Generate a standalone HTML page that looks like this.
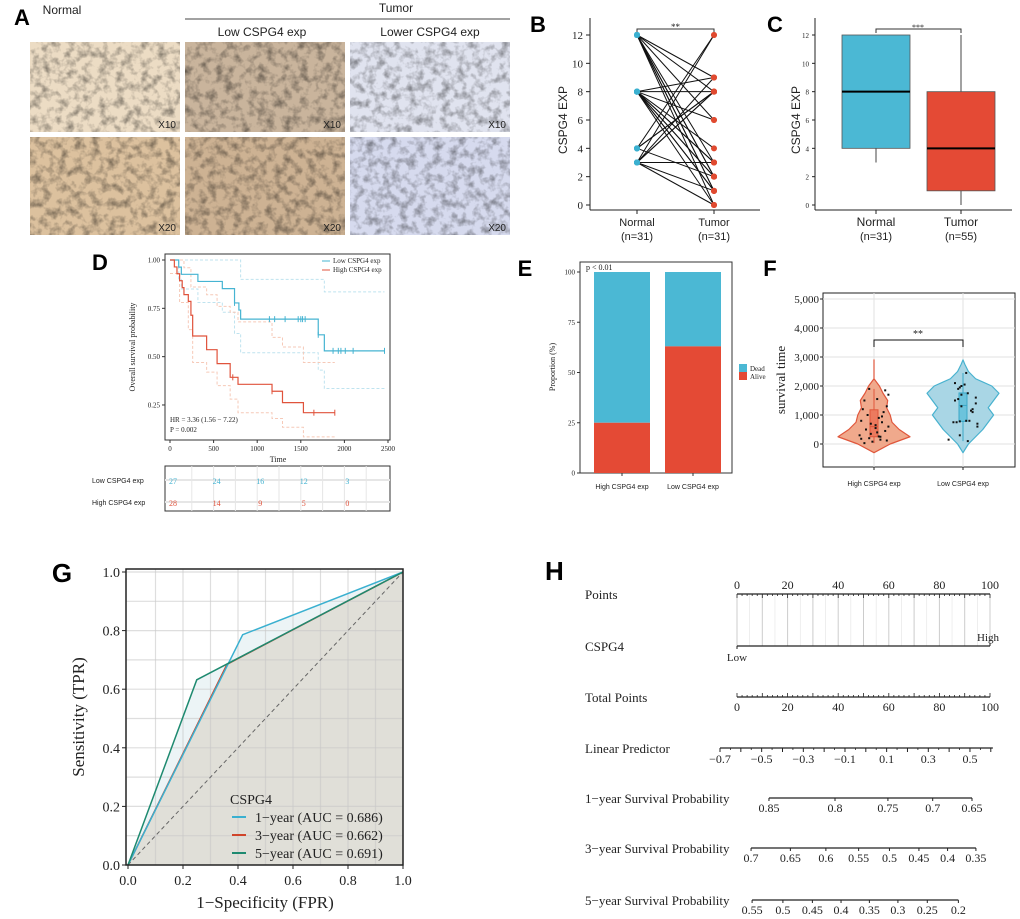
<!DOCTYPE html>
<html><head><meta charset="utf-8"><style>
html,body{margin:0;padding:0;background:#fff;}
svg{display:block;}
</style></head><body>
<svg id="fig" xmlns="http://www.w3.org/2000/svg" width="1020" height="919" viewBox="0 0 1020 919">
<defs>
<filter id="tex" x="0" y="0" width="100%" height="100%">
<feTurbulence type="fractalNoise" baseFrequency="0.12" numOctaves="3" seed="3"/>
<feColorMatrix type="matrix" values="0 0 0 0 0  0 0 0 0 0  0 0 0 0 0  0 0 0 1.3 -0.55"/>
</filter>
</defs>
</svg>
<script>
// ---------- DATA ----------
const bNormalVals=[12,12,12,12,12,12,12,12,12,8,8,8,8,8,8,8,8,8,8,8,4,4,4,4,3,3,3,3,3,3,3];
const bTumorVals=[0,1,2,3,8,9,6,1,2,8,9,6,4,3,2,1,0,1,2,3,12,8,2,8,12,8,3,1,0,9,8];
const bTicks=[0,2,4,6,8,10,12];
const cGroups=['Normal','Tumor'];
const cQ1=[4,1], cMed=[8,4], cQ3=[12,8], cMin=[3,0], cMax=[12,12];
const kmLowT=[0,100,130,320,600,740,790,810,1700,1770,2460];
const kmLowS=[1,0.963,0.926,0.889,0.852,0.778,0.741,0.694,0.613,0.53,0.53];
const kmHighT=[0,50,80,110,140,160,210,240,260,420,540,690,780,1170,1290,1530,1890];
const kmHighS=[1,0.964,0.929,0.893,0.857,0.821,0.786,0.714,0.607,0.536,0.464,0.393,0.357,0.321,0.262,0.21,0.21];
const kmLowUpT=[0,130,740,810,1700,1770,2460], kmLowUpS=[1,1,1,0.9,0.9,0.835,0.835];
const kmLowLoT=[0,100,130,320,600,740,810,1700,1770,2460], kmLowLoS=[1,0.9,0.85,0.78,0.73,0.62,0.52,0.43,0.335,0.335];
const kmHighUpT=[0,160,240,420,540,690,780,1170,1290,1530,1890], kmHighUpS=[1,0.96,0.86,0.82,0.76,0.73,0.68,0.6,0.55,0.47,0.47];
const kmHighLoT=[0,110,210,260,420,540,690,780,1170,1290,1530,1890], kmHighLoS=[0.93,0.78,0.64,0.47,0.42,0.35,0.28,0.21,0.18,0.135,0.085,0.085];
const kmCensLow=[740,1140,1200,1320,1470,1500,1520,1550,1700,1870,1930,1960,2010,2100,2460];
const kmCensHigh=[720,1170,1650,1890];
const kmXTicks=[0,500,1000,1500,2000,2500];
const kmYTicks=[0.25,0.5,0.75,1.0];
const riskTimes=[0,500,1000,1500,2000];
const riskLow=[27,24,16,12,3];
const riskHigh=[28,14,9,5,0];
const eGroups=['High CSPG4 exp','Low CSPG4 exp'];
const eAlive=[25,63];
const eTicks=[0,25,50,75,100];
const fTicks=[0,1000,2000,3000,4000,5000];
const fLevels=[-300,0,250,500,750,1000,1250,1500,1750,2000,2250,2500,2750,2900];
const fHighDens=[0,0.45,1.0,0.7,0.5,0.45,0.35,0.38,0.25,0.15,0,0,0,0];
const fLowDens=[0,0.15,0.35,0.55,0.7,0.85,0.7,0.85,1.0,0.8,0.35,0.15,0.05,0];
const fHighPts=[30,120,200,250,300,400,450,500,550,600,700,750,800,900,1000,1100,1200,1300,1500,1550,1900,1850,150,80,350,650,260,180,1700,950];
const fHighJit=[-0.6,0.8,-0.3,0.4,-0.9,0.2,0.7,-0.5,0.1,0.9,-0.2,0.5,-0.8,0.3,-0.4,0.6,-0.7,0.8,-0.6,0.2,-0.3,0.7,0.4,-0.1,-0.2,0.1,0.3,-0.8,0.9,0.5];
const fLowPts=[150,100,300,600,700,750,750,780,800,1100,1200,1300,1400,1500,1550,1600,1700,1750,1900,2000,2050,2100,2450,1150,800,1950];
const fLowJit=[-0.9,0.3,-0.2,0.9,0.9,-0.6,-0.4,-0.2,0.2,0.6,0.6,-0.1,0.8,-0.5,-0.3,0.8,-0.1,0.3,-0.3,-0.1,0.1,-0.5,0.2,0.5,0.4,-0.2];
const fMed=[600,1330], fQ1=[250,780], fQ3=[1180,1760], fMin=[30,100], fMax=[1900,2450];
const gFpr1=[0,0.417,1], gTpr1=[0,0.786,1];
const gFpr3=[0,0.36,1], gTpr3=[0,0.685,1];
const gFpr5=[0,0.25,1], gTpr5=[0,0.632,1];
const gTicks=[0,0.2,0.4,0.6,0.8,1.0];
const gLegend=['1\u2212year (AUC = 0.686)','3\u2212year (AUC = 0.662)','5\u2212year (AUC = 0.691)'];
const hPointTicks=[0,20,40,60,80,100];
const hLpTicks=[-0.7,-0.5,-0.3,-0.1,0.1,0.3,0.5];
const hS1=[0.85,0.8,0.75,0.7,0.65];
const hS3=[0.7,0.65,0.6,0.55,0.5,0.45,0.4,0.35];
const hS5=[0.55,0.5,0.45,0.4,0.35,0.3,0.25,0.2];

// ---------- HELPERS ----------
const NS='http://www.w3.org/2000/svg';
const svg=document.getElementById('fig');
const SERIF='"Liberation Serif", serif', SANS='"Liberation Sans", sans-serif';
function E(tag,attrs,name,parent){
  const e=document.createElementNS(NS,tag);
  for(const k in attrs) e.setAttribute(k,attrs[k]);
  
  
  (parent||svg).appendChild(e);
  return e;
}
function T(x,y,s,size,name,o){
  o=o||{};
  const a={x:x,y:y,'font-size':size,'font-family':o.f||SERIF,fill:o.fill||'#222','text-anchor':o.a||'middle'};
  if(o.w) a['font-weight']=o.w;
  if(o.rot!==undefined) a.transform='rotate('+o.rot+' '+x+' '+y+')';
  if(o.st) a['font-style']=o.st;
  const t=E('text',a,name);
  t.textContent=s; return t;
}
function L(x1,y1,x2,y2,st,w,name,o){
  o=o||{};
  const a={x1:x1,y1:y1,x2:x2,y2:y2,stroke:st,'stroke-width':w};
  if(o.d) a['stroke-dasharray']=o.d;
  return E('line',a,name);
}
function stepPath(ts,ss,fx,fy){
  let d='M'+fx(ts[0])+','+fy(ss[0]);
  for(let i=1;i<ts.length;i++){ d+=' H'+fx(ts[i])+' V'+fy(ss[i]); }
  return d;
}

// ---------- PANEL A ----------
T(14,25,'A',22,'panel-a-label',{f:SANS,w:'bold',a:'start',fill:'#000'});
T(62,14,'Normal',12,'normal-header',{f:SANS,a:'middle'});
T(396,12,'Tumor',12,'tumor-header',{f:SANS});
L(185,19,510,19,'#444',1,'tumor-header-rule');
T(262,36,'Low CSPG4 exp',12,'low-exp-header',{f:SANS});
T(430,36,'Lower CSPG4 exp',12,'lower-exp-header',{f:SANS});
const tiles=[
 [30,42,150,90,'#ecdcc4','#9a6a3a','normal-x10'],[185,42,160,90,'#c9b49c','#8a6c52','low-x10'],[350,42,160,90,'#e0e3ef','#7c7fb0','lower-x10'],
 [30,137,150,98,'#dcc19e','#9a6838','normal-x20'],[185,137,160,98,'#cdb293','#8a6848','low-x20'],[350,137,160,98,'#d6daee','#8088bc','lower-x20']];
tiles.forEach((t,i)=>{
  E('rect',{x:t[0],y:t[1],width:t[2],height:t[3],fill:t[4]},'ihc-image-'+t[6]);
  E('rect',{x:t[0],y:t[1],width:t[2],height:t[3],fill:t[5],filter:'url(#tex)',opacity:0.7},'ihc-texture-'+t[6]);
  T(t[0]+t[2]-4,t[1]+t[3]-4,i<3?'X10':'X20',10,'magnification-'+t[6],{f:SANS,a:'end',fill:'#222'});
});

// ---------- PANEL B ----------
T(538,32,'B',22,'panel-b-label',{f:SANS,w:'bold',fill:'#000'});
const bx0=590, by=v=>205-v*170/12, bxN=637, bxT=714;
L(bx0,18,bx0,210,'#222',1,'b-y-axis'); L(bx0,210,760,210,'#222',1,'b-x-axis');
bTicks.forEach(v=>{L(bx0-4,by(v),bx0,by(v),'#222',1,'b-y-tick'); T(bx0-7,by(v)+4,String(v),11,'b-y-tick-label',{a:'end'});});
[bxN,bxT].forEach(x=>L(x,210,x,214,'#222',1,'b-x-tick'));
T(bxN,226,'Normal',11,'b-x-label-normal',{f:SANS}); T(bxN,240,'(n=31)',11,'b-n-normal',{f:SANS});
T(bxT,226,'Tumor',11,'b-x-label-tumor',{f:SANS}); T(bxT,240,'(n=31)',11,'b-n-tumor',{f:SANS});
T(567,120,'CSPG4 EXP',12,'b-y-title',{f:SANS,rot:-90});
E('path',{d:'M'+bxN+',33 V29 H'+bxT+' V33',fill:'none',stroke:'#333','stroke-width':1},'b-significance-bracket');
T((bxN+bxT)/2,30,'**',9,'b-significance-stars');
bNormalVals.forEach((v,i)=>L(bxN,by(v),bxT,by(bTumorVals[i]),'#111',1,'b-pair-line'));
bNormalVals.forEach(v=>E('circle',{cx:bxN,cy:by(v),r:3,fill:'#3ab0d0'},'b-normal-point'));
bTumorVals.forEach(v=>E('circle',{cx:bxT,cy:by(v),r:3,fill:'#e04a30'},'b-tumor-point'));

// ---------- PANEL C ----------
T(775,32,'C',22,'panel-c-label',{f:SANS,w:'bold',fill:'#000'});
const cx0=815, cy=v=>205-v*170/12, cCenters=[876,961], cw=34, cCols=['#4bb8d4','#e44a35'];
L(cx0,18,cx0,210,'#222',1,'c-y-axis'); L(cx0,210,1012,210,'#222',1,'c-x-axis');
bTicks.forEach(v=>{L(cx0-3,cy(v),cx0,cy(v),'#222',1,'c-y-tick'); T(cx0-6,cy(v)+3,String(v),7,'c-y-tick-label',{a:'end'});});
T(800,120,'CSPG4 EXP',12,'c-y-title',{f:SANS,rot:-90});
cGroups.forEach((g,i)=>{
  const x=cCenters[i];
  L(x,cy(cMin[i]),x,cy(cMax[i]),'#444',1,'c-whisker-'+g);
  E('rect',{x:x-cw,y:cy(cQ3[i]),width:2*cw,height:cy(cQ1[i])-cy(cQ3[i]),fill:cCols[i],stroke:'#555','stroke-width':0.8},'c-box-'+g);
  L(x-cw,cy(cMed[i]),x+cw,cy(cMed[i]),'#000',2,'c-median-'+g);
  L(x,210,x,214,'#222',1,'c-x-tick');
  T(x,226,g,12,'c-x-label-'+g,{f:SANS});
  T(x,240,i==0?'(n=31)':'(n=55)',11,'c-n-'+g,{f:SANS});
});
E('path',{d:'M876,33 V29 H961 V33',fill:'none',stroke:'#333','stroke-width':1},'c-significance-bracket');
T(918,30,'***',8,'c-significance-stars');

// ---------- PANEL D ----------
T(100,270,'D',22,'panel-d-label',{f:SANS,w:'bold',fill:'#000'});
const dx=t=>170+t*218/2500, dy=s=>260+(1-s)*193.3;
E('rect',{x:165,y:254,width:225,height:186,fill:'#fff',stroke:'#333','stroke-width':1},'d-plot-frame');
[[kmLowUpT,kmLowUpS,'#bfe3ef'],[kmLowLoT,kmLowLoS,'#bfe3ef'],[kmHighUpT,kmHighUpS,'#f6c9b8'],[kmHighLoT,kmHighLoS,'#f6c9b8']].forEach((c,i)=>
  E('path',{d:stepPath(c[0],c[1],dx,dy),fill:'none',stroke:c[2],'stroke-width':1,'stroke-dasharray':'3,2'},'d-ci-band-'+i));
E('path',{d:stepPath(kmLowT,kmLowS,dx,dy),fill:'none',stroke:'#46b4d2','stroke-width':1.2},'d-km-low');
E('path',{d:stepPath(kmHighT,kmHighS,dx,dy),fill:'none',stroke:'#e0533c','stroke-width':1.2},'d-km-high');
function survAt(ts,ss,t){let s=ss[0];for(let i=0;i<ts.length;i++){if(ts[i]<=t)s=ss[i];}return s;}
kmCensLow.forEach(t=>{const y=dy(survAt(kmLowT,kmLowS,t));L(dx(t),y-3,dx(t),y+3,'#46b4d2',1,'d-censor-low');});
kmCensHigh.forEach(t=>{const y=dy(survAt(kmHighT,kmHighS,t));L(dx(t),y-3,dx(t),y+3,'#e0533c',1,'d-censor-high');});
kmXTicks.forEach(t=>{L(dx(t),440,dx(t),443,'#333',1,'d-x-tick');T(dx(t),451,String(t),7,'d-x-tick-label');});
kmYTicks.forEach(s=>{L(162,dy(s),165,dy(s),'#333',1,'d-y-tick');T(160,dy(s)+2.5,s.toFixed(2),7,'d-y-tick-label',{a:'end'});});
T(278,462,'Time',8,'d-x-title');
T(135,347,'Overall survival probability',8,'d-y-title',{rot:-90});
L(322,261,330,261,'#46b4d2',1,'d-legend-low-swatch'); T(333,263,'Low CSPG4 exp',7,'d-legend-low',{a:'start'});
L(322,270,330,270,'#e0533c',1,'d-legend-high-swatch'); T(333,272,'High CSPG4 exp',7,'d-legend-high',{a:'start'});
T(170,422,'HR = 3.36  (1.56 \u2212 7.22)',7,'d-hr-text',{a:'start'});
T(170,432,'P = 0.002',7,'d-p-text',{a:'start'});
E('rect',{x:165,y:466,width:225,height:45,fill:'#fff',stroke:'#333','stroke-width':1},'d-risk-table-frame');
[250,500,750,1000,1250,1500,1750,2000,2250].forEach(t=>L(dx(t),466,dx(t),511,'#e6e6e6',1,'d-risk-grid'));
L(165,480,390,480,'#e6e6e6',2,'d-risk-grid-row'); L(165,502,390,502,'#e6e6e6',2,'d-risk-grid-row');
T(92,483,'Low CSPG4 exp',7,'d-risk-label-low',{f:SANS,a:'start'});
T(92,505,'High CSPG4 exp',7,'d-risk-label-high',{f:SANS,a:'start'});
riskTimes.forEach((t,i)=>{
  T(dx(t)+3,484,String(riskLow[i]),8,'d-risk-low-count',{fill:'#46b4d2'});
  T(dx(t)+3,506,String(riskHigh[i]),8,'d-risk-high-count',{fill:'#e0533c'});
});

// ---------- PANEL E ----------
T(525,276,'E',22,'panel-e-label',{f:SANS,w:'bold',fill:'#000'});
const ey=v=>473-v*201/100, eBarX=[594,665], eBarW=56;
E('rect',{x:580,y:262,width:152,height:211,fill:'#fff',stroke:'#333','stroke-width':1},'e-plot-frame');
eTicks.forEach(v=>{L(577,ey(v),580,ey(v),'#333',1,'e-y-tick');T(575,ey(v)+2.5,String(v),7,'e-y-tick-label',{a:'end'});});
eGroups.forEach((g,i)=>{
  E('rect',{x:eBarX[i],y:ey(100),width:eBarW,height:ey(eAlive[i])-ey(100),fill:'#4bb8d4'},'e-bar-dead-'+i);
  E('rect',{x:eBarX[i],y:ey(eAlive[i]),width:eBarW,height:ey(0)-ey(eAlive[i]),fill:'#e44a35'},'e-bar-alive-'+i);
  L(eBarX[i]+eBarW/2,473,eBarX[i]+eBarW/2,476,'#333',1,'e-x-tick');
  T(eBarX[i]+eBarW/2,489,g,7,'e-x-label-'+i,{f:SANS});
});
T(586,270,'p < 0.01',8,'e-p-value',{a:'start'});
T(555,367,'Proportion (%)',8,'e-y-title',{rot:-90});
E('rect',{x:739,y:364,width:8,height:8,fill:'#4bb8d4'},'e-legend-dead-swatch'); T(750,371,'Dead',7,'e-legend-dead',{a:'start'});
E('rect',{x:739,y:372,width:8,height:8,fill:'#e44a35'},'e-legend-alive-swatch'); T(750,379,'Alive',7,'e-legend-alive',{a:'start'});

// ---------- PANEL F ----------
T(770,276,'F',22,'panel-f-label',{f:SANS,w:'bold',fill:'#000'});
const fy=v=>444-v*145/5000, fX=[874,963], fHalf=36;
E('rect',{x:823,y:293,width:192,height:174,fill:'#fff',stroke:'#222','stroke-width':1},'f-plot-frame');
fTicks.forEach(v=>{L(823,fy(v),1015,fy(v),'#e2e2e2',1,'f-grid-h');L(820,fy(v),823,fy(v),'#222',1,'f-y-tick');
  T(819,fy(v)+4,v.toLocaleString('en-US'),11,'f-y-tick-label',{a:'end'});});
fX.forEach(x=>L(x,293,x,467,'#e2e2e2',1,'f-grid-v'));
T(785,380,'survival time',13,'f-y-title',{rot:-90});
function violin(cx,dens,stroke,fill,name){
  let r='',l='';
  fLevels.forEach((v,i)=>{r+=(i?' L':'M')+(cx+dens[i]*fHalf)+','+fy(v);});
  for(let i=fLevels.length-1;i>=0;i--){l+=' L'+(cx-dens[i]*fHalf)+','+fy(fLevels[i]);}
  E('path',{d:r+l+' Z',fill:fill,stroke:stroke,'stroke-width':1.2,'stroke-linejoin':'round'},name);
}
violin(fX[0],fHighDens,'#e0573c','#f0a98c','f-violin-high');
violin(fX[1],fLowDens,'#48b2cf','#a9d6e5','f-violin-low');
[0,1].forEach(i=>{
  const col=i?'#3aa8c8':'#e0573c';
  L(fX[i],fy(fMin[i]),fX[i],fy(fMax[i]),col,1,'f-whisker-'+i);
  E('rect',{x:fX[i]-4,y:fy(fQ3[i]),width:8,height:fy(fQ1[i])-fy(fQ3[i]),fill:i?'#6cc3dc':'#ec7a5e',stroke:col,'stroke-width':1},'f-box-'+i);
  L(fX[i]-4,fy(fMed[i]),fX[i]+4,fy(fMed[i]),col,1,'f-median-'+i);
  L(fX[i],467,fX[i],470,'#222',1,'f-x-tick');
});
fHighPts.forEach((v,i)=>E('rect',{x:fX[0]+fHighJit[i]*16-1,y:fy(v)-1,width:2,height:2,fill:'#111'},'f-point-high'));
fLowPts.forEach((v,i)=>E('rect',{x:fX[1]+fLowJit[i]*16-1,y:fy(v)-1,width:2,height:2,fill:'#111'},'f-point-low'));
E('path',{d:'M874,347 V340 H963 V347',fill:'none',stroke:'#111','stroke-width':1},'f-significance-bracket');
T(918,337,'**',10,'f-significance-stars');
T(fX[0],486,'High CSPG4 exp',7,'f-x-label-high',{f:SANS});
T(fX[1],486,'Low CSPG4 exp',7,'f-x-label-low',{f:SANS});

// ---------- PANEL G ----------
T(62,582,'G',26,'panel-g-label',{f:SANS,w:'bold',fill:'#000'});
const gx=v=>128+v*275, gy=v=>865-v*293;
E('rect',{x:126,y:569,width:277,height:296,fill:'#fff'},'g-plot-bg');
function poly(f,t){return f.map((v,i)=>gx(v)+','+gy(t[i])).join(' ');}
E('polygon',{points:poly([0,0.25,0.36,0.417,1,1],[0,0.632,0.685,0.786,1,0]),fill:'#ecf4f6'},'g-area-between');
E('polygon',{points:poly([0,0.36,1,1],[0,0.685,1,0]),fill:'#e0dfd8'},'g-area-under');
for(let v=0.1;v<1.0;v+=0.1){
  L(gx(v),569,gx(v),865,'rgba(200,200,200,0.6)',1.2,'g-grid-v');
  L(126,gy(v),403,gy(v),'rgba(200,200,200,0.6)',1.2,'g-grid-h');
}
L(gx(0),gy(0),gx(1),gy(1),'#666',1,'g-diagonal',{d:'4,3'});
E('polyline',{points:poly(gFpr3,gTpr3),fill:'none',stroke:'#d0452a','stroke-width':1.5},'g-roc-3year');
E('polyline',{points:poly(gFpr1,gTpr1),fill:'none',stroke:'#3ab0d0','stroke-width':1.5},'g-roc-1year');
E('polyline',{points:poly(gFpr5,gTpr5),fill:'none',stroke:'#1e8a70','stroke-width':1.5},'g-roc-5year');
E('rect',{x:126,y:569,width:277,height:296,fill:'none',stroke:'#222','stroke-width':1.5},'g-plot-frame');
gTicks.forEach(v=>{
  L(gx(v),865,gx(v),869,'#222',1,'g-x-tick'); T(gx(v),885,v.toFixed(1),14,'g-x-tick-label');
  L(122,gy(v),126,gy(v),'#222',1,'g-y-tick'); T(120,gy(v)+5,v.toFixed(1),14,'g-y-tick-label',{a:'end'});
});
T(265,908,'1\u2212Specificity (FPR)',17,'g-x-title');
T(84,717,'Sensitivity (TPR)',17,'g-y-title',{rot:-90});
T(230,804,'CSPG4',14,'g-legend-title',{a:'start'});
const gCols=['#3ab0d0','#d0452a','#1e8a70'];
gLegend.forEach((s,i)=>{L(232,817+i*18,246,817+i*18,gCols[i],2,'g-legend-swatch-'+i);T(255,822+i*18,s,14,'g-legend-entry-'+i,{a:'start'});});

// ---------- PANEL H ----------
T(545,580,'H',26,'panel-h-label',{f:SANS,w:'bold',fill:'#000',a:'start'});
const px=p=>737+p*253/100;
const lpx=v=>720+(v+0.7)*2083/10;
const sx=(s,c)=>lpx(Math.log(-Math.log(s))-c);
const rowY={points:594,cspg4:646,total:697,lp:748,s1:798,s3:848,s5:900};
const hLbl=[['Points',rowY.points],['CSPG4',rowY.cspg4],['Total Points',rowY.total],['Linear Predictor',rowY.lp],['1\u2212year Survival Probability',rowY.s1],['3\u2212year Survival Probability',rowY.s3],['5\u2212year Survival Probability',rowY.s5]];
hLbl.forEach((r,i)=>T(585,r[1]+5,r[0],13,'h-row-label-'+i,{a:'start'}));
for(let p=0;p<=100;p+=10) L(px(p),rowY.points,px(p),rowY.cspg4,'#ccc',1,'h-guide-line');
for(let p=5;p<100;p+=10) L(px(p),rowY.points,px(p),rowY.cspg4,'#e4e4e4',0.6,'h-guide-line-minor');
L(px(0),rowY.points,px(100),rowY.points,'#222',1.2,'h-points-axis');
for(let p=0;p<=100;p+=2) L(px(p),rowY.points,px(p),rowY.points+(p%10?2:4),'#222',0.8,'h-points-tick');
hPointTicks.forEach(p=>T(px(p),rowY.points-5,String(p),12,'h-points-tick-label'));
L(px(0),rowY.cspg4,px(100),rowY.cspg4,'#222',1.2,'h-cspg4-axis');
L(px(0),rowY.cspg4,px(0),rowY.cspg4+3,'#222',1,'h-cspg4-tick-low'); L(px(100),rowY.cspg4,px(100),rowY.cspg4-3,'#222',1,'h-cspg4-tick-high');
T(px(0),rowY.cspg4+15,'Low',11,'h-cspg4-low'); T(px(100)-2,rowY.cspg4-5,'High',11,'h-cspg4-high');
L(px(0),rowY.total,px(100),rowY.total,'#222',1.2,'h-total-axis');
for(let p=0;p<=100;p+=2) L(px(p),rowY.total,px(p),rowY.total-(p%10?2:4),'#222',0.8,'h-total-tick');
hPointTicks.forEach(p=>T(px(p),rowY.total+14,String(p),12,'h-total-tick-label'));
L(lpx(-0.7),rowY.lp,lpx(0.61),rowY.lp,'#222',1.2,'h-lp-axis');
for(let v=-0.7;v<=0.61;v+=0.1) L(lpx(v),rowY.lp,lpx(v),rowY.lp+4,'#222',1,'h-lp-tick');
for(let v=-0.65;v<=0.61;v+=0.1) L(lpx(v),rowY.lp,lpx(v),rowY.lp+2,'#222',0.8,'h-lp-minor-tick');
hLpTicks.forEach(v=>T(lpx(v),rowY.lp+15,(v<0?'\u2212':'')+Math.abs(v).toFixed(1),12,'h-lp-tick-label'));
function survAxis(vals,c,y,name){
  L(sx(vals[0],c),y,sx(vals[vals.length-1],c),y,'#222',1.2,name+'-axis');
  vals.forEach(s=>{L(sx(s,c),y,sx(s,c),y+3,'#222',1,name+'-tick');T(sx(s,c),y+14,String(s),12,name+'-tick-label');});
}
survAxis(hS1,-1.352,rowY.s1,'h-s1');
survAxis(hS3,-0.48,rowY.s3,'h-s3');
survAxis(hS5,0.0315,rowY.s5,'h-s5');
</script>
</body></html>
